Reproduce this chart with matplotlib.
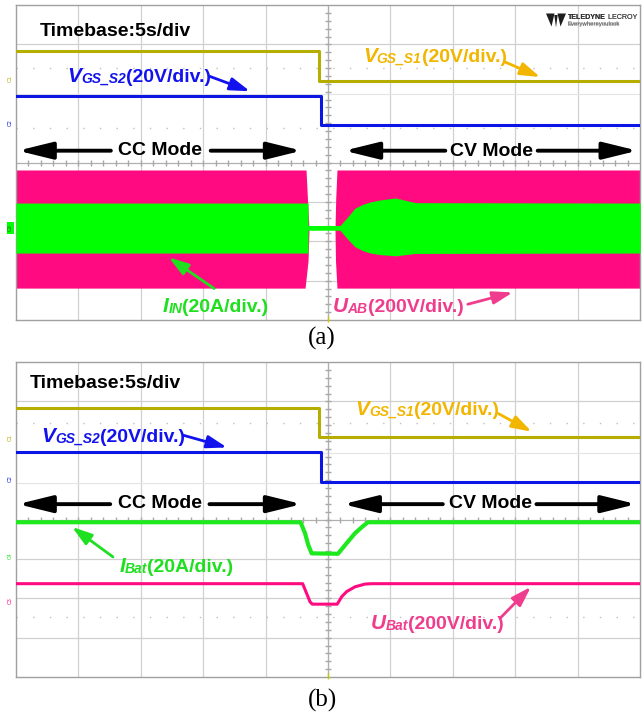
import numpy as np
import matplotlib
matplotlib.use('Agg')
import matplotlib.pyplot as plt
from matplotlib.patches import Polygon, Rectangle

W, H = 643, 718

# ---- data (x: time in s, 5 s/div; y: divisions from bottom of screen) ----
# panel (a)
t_s1 = [0, 24.3, 24.3, 50]
t_s2 = [0, 24.4, 24.4, 50]
a_vgs_s1 = [6.83, 6.83, 6.07, 6.07]
a_vgs_s2 = [5.69, 5.69, 4.95, 4.95]
# U_AB switching envelope (pink), two blocks with a gap around the mode change
uab_y = [0.81, 1.5, 2.3, 3.1, 3.81]
uab_left_edge = [23.16, 23.40, 23.48, 23.35, 23.24]
uab_right_edge = [25.72, 25.60, 25.56, 25.62, 25.72]
# I_IN envelope (green)
iin_t = [0, 23.4, 23.4, 25.96, 26.5, 27.16, 27.8, 28.4, 29.2, 30.4, 31.2, 32.0, 50]
iin_hi = [2.97, 2.97, 2.40, 2.40, 2.59, 2.84, 2.94, 3.00, 3.05, 3.10, 3.04, 2.98, 2.97]
iin_lo = [1.70, 1.70, 2.28, 2.28, 2.08, 1.86, 1.76, 1.70, 1.66, 1.63, 1.66, 1.69, 1.70]

# panel (b)
b_vgs_s1 = [6.83, 6.83, 6.09, 6.09]
b_vgs_s2 = [5.71, 5.71, 4.95, 4.95]
ibat_t = [0, 22.8, 23.16, 23.42, 23.69, 25.8, 26.5, 27.16, 27.8, 28.2, 50]
ibat = [3.93, 3.93, 3.65, 3.35, 3.14, 3.13, 3.40, 3.65, 3.83, 3.93, 3.93]
ubat_t = [0, 22.97, 23.29, 23.56, 23.74, 25.74, 26.1, 26.5, 27.16, 27.96, 28.5, 50]
ubat = [2.37, 2.37, 2.12, 1.91, 1.85, 1.85, 2.04, 2.17, 2.29, 2.36, 2.37, 2.37]

YEL = '#b5ad00'
BLUE = '#0b16e4'
GREEN = '#00ff00'
PINK = '#ff0a80'
SANS = 'Liberation Sans'

fig = plt.figure(figsize=(W / 100, H / 100), dpi=100)
fig.patch.set_facecolor('white')


def scope_axes(top_px, hlines, faint, dotted):
    ax = fig.add_axes([16 / W, (H - top_px - 315) / H, 624 / W, 315 / H])
    ax.set_xlim(0, 50)
    ax.set_ylim(0, 8)
    ax.set_xticks([])
    ax.set_yticks([])
    for s in ax.spines.values():
        s.set_color('#a0a0a0')
        s.set_linewidth(1.0)
    for x in range(5, 50, 5):
        ax.axvline(x, color='#d0d0d0', lw=0.9, zorder=0)
    for y in hlines:
        ax.axhline(y, color='#d0d0d0', lw=0.9, zorder=0)
    for y in faint:
        ax.axhline(y, color='#e4e4e4', lw=0.8, zorder=0)
    for y in dotted:
        ax.axhline(y, color='#c0c0c0', lw=1.0, ls=(0, (1, 11)), zorder=0)
    # centre lines with minor ticks
    ax.axvline(25, color='#b0b0b0', lw=0.9, zorder=0.5)
    ax.axhline(4, color='#b0b0b0', lw=0.9, zorder=0.5)
    ax.plot(np.arange(1, 50, 1.0), np.full(49, 4.0), ls='none', marker='|',
            ms=5, color='#a8a8a8', zorder=0.6)
    ax.plot(np.full(39, 25.0), np.arange(0.2, 7.9, 0.2), ls='none', marker='_',
            ms=5, color='#a8a8a8', zorder=0.6)
    ax.plot([25], [0.02], marker='|', ms=5, color='#c8c800', clip_on=False, zorder=5)
    return ax


def sig_label(ax, x, y, main, sub, rest, color):
    kw = dict(color=color, fontweight='bold', family=SANS, zorder=7)
    t1 = ax.text(x, y, main, fontsize=15, fontstyle='italic', va='baseline', ha='left', **kw)
    t2 = ax.annotate(sub, xy=(1, 0), xycoords=t1, fontsize=10, fontstyle='italic',
                     va='bottom', ha='left', **kw)
    ax.annotate(rest, xy=(1, 0), xycoords=(t2, t1), fontsize=14, va='bottom', ha='left', **kw)


def arrow(ax, tail, head, color, lw=2.0, ms=12, hw=0.32, hl=1.0):
    ax.annotate('', xy=head, xytext=tail, zorder=7,
                arrowprops=dict(arrowstyle=f'-|>,head_length={hl},head_width={hw}', color=color,
                                lw=lw, mutation_scale=ms, shrinkA=0, shrinkB=0))


def mode_text(ax, text, xc, yb, ya, l_tip, l_tail, r_tail, r_tip):
    ax.text(xc, yb, text, fontsize=14, fontweight='bold', family=SANS, ha='center',
            va='baseline', zorder=7)
    arrow(ax, (l_tail, ya), (l_tip, ya), 'black', lw=2.8, ms=16, hw=0.32, hl=1.3)
    arrow(ax, (r_tail, ya), (r_tip, ya), 'black', lw=2.8, ms=16, hw=0.32, hl=1.3)


def logo(ax, top_px):
    bot = top_px + 315

    def pa(px, py):
        return ((px - 16) / 624, (bot - py) / 315)

    shapes = [
        [(546, 13.5), (554.5, 13.5), (551.5, 26.5)],
        [(566, 13.5), (557.5, 13.5), (560.5, 26.5)],
        [(554.3, 15), (557.7, 15), (556, 27.5)],
    ]
    for pts in shapes:
        ax.add_patch(Polygon([pa(*p) for p in pts], closed=True, transform=ax.transAxes,
                             facecolor='#1e1e1e', edgecolor='none', zorder=7))
    t = ax.text(*pa(568, 19), 'TELEDYNE', transform=ax.transAxes, fontsize=5.1,
                fontweight='bold', family=SANS, color='#333333', va='baseline', zorder=7)
    ax.annotate(' LECROY', xy=(1, 0), xycoords=t, fontsize=5.1, family=SANS,
                color='#444444', va='bottom', zorder=7)
    ax.text(*pa(568, 25.5), 'Everywhereyoulook', transform=ax.transAxes, fontsize=4.3,
            family=SANS, color='#666666', va='baseline', zorder=7)


def chan_tag(ax, y, text, color, box=False):
    if box:
        ax.add_patch(Rectangle((-0.75, y - 0.15), 0.55, 0.3, facecolor=color,
                               edgecolor='none', clip_on=False, zorder=6))
        color = '#206020'
    ax.text(-0.48, y, text, fontsize=3.8, color=color, rotation=90, ha='center',
            va='center', clip_on=False, family=SANS, zorder=7)


# ---------------- panel (a) ----------------
ax1 = scope_axes(5, hlines=[7, 3, 2, 1], faint=[5.74], dotted=[6.40, 4.87])
ax1.fill_betweenx(uab_y, 0, uab_left_edge, color=PINK, lw=0, zorder=2)
ax1.fill_betweenx(uab_y, uab_right_edge, 50, color=PINK, lw=0, zorder=2)
ax1.fill_between(iin_t, iin_lo, iin_hi, color=GREEN, lw=0, zorder=3)
ax1.plot(t_s1, a_vgs_s1, color=YEL, lw=2.2, zorder=4)
ax1.plot(t_s2, a_vgs_s2, color=BLUE, lw=2.2, zorder=4)

ax1.text(1.92, 7.33, 'Timebase:5s/div', fontsize=14, fontweight='bold', family=SANS,
         va='center', ha='left', zorder=7)
sig_label(ax1, 4.09, 6.04, 'V', 'GS_S2', '(20V/div.)', '#1212ee')
arrow(ax1, (15.5, 6.19), (18.75, 5.81), '#1212ee')
sig_label(ax1, 27.8, 6.55, 'V', 'GS_S1', '(20V/div.)', '#f2b600')
arrow(ax1, (39.2, 6.55), (42.0, 6.17), '#f2b600')
mode_text(ax1, 'CC Mode', 11.54, 4.19, 4.30, 0.15, 7.6, 15.6, 22.9)
mode_text(ax1, 'CV Mode', 38.1, 4.16, 4.30, 26.3, 34.4, 41.8, 49.8)
sig_label(ax1, 11.74, 0.21, 'I', 'IN', '(20A/div.)', '#1ee01e')
arrow(ax1, (15.87, 0.80), (12.24, 1.59), '#1ee01e')
sig_label(ax1, 25.36, 0.21, 'U', 'AB', '(200V/div.)', '#f03c8c')
arrow(ax1, (36.2, 0.40), (39.8, 0.70), '#f03c8c')
logo(ax1, 5)
chan_tag(ax1, 6.13, 'C1', YEL)
chan_tag(ax1, 5.0, 'C2', BLUE)
chan_tag(ax1, 2.34, 'C3', GREEN, box=True)

# ---------------- panel (b) ----------------
ax2 = scope_axes(362, hlines=[7, 3, 2, 1], faint=[5.69, 4.92], dotted=[6.45, 1.52])
ax2.plot(t_s1, b_vgs_s1, color=YEL, lw=2.2, zorder=4)
ax2.plot(t_s2, b_vgs_s2, color=BLUE, lw=2.2, zorder=4)
ax2.plot(ibat_t, ibat, color='#1ee81e', lw=3.0, zorder=4)
ax2.plot(ubat_t, ubat, color=PINK, lw=2.2, zorder=4)

ax2.text(1.12, 7.46, 'Timebase:5s/div', fontsize=14, fontweight='bold', family=SANS,
         va='center', ha='left', zorder=7)
sig_label(ax2, 2.06, 5.97, 'V', 'GS_S2', '(20V/div.)', '#1212ee')
arrow(ax2, (13.4, 6.14), (16.9, 5.83), '#1212ee')
sig_label(ax2, 27.16, 6.65, 'V', 'GS_S1', '(20V/div.)', '#f2b600')
arrow(ax2, (38.65, 6.69), (41.32, 6.23), '#f2b600')
mode_text(ax2, 'CC Mode', 11.5, 4.28, 4.39, 0.15, 7.55, 15.5, 22.9)
mode_text(ax2, 'CV Mode', 38.0, 4.28, 4.39, 26.2, 34.2, 41.7, 49.7)
sig_label(ax2, 8.28, 2.67, 'I', 'Bat', '(20A/div.)', '#1ee01e')
arrow(ax2, (7.77, 3.05), (4.49, 3.81), '#1ee01e')
sig_label(ax2, 28.4, 1.23, 'U', 'Bat', '(200V/div.)', '#f03c8c')
arrow(ax2, (38.78, 1.49), (41.26, 2.29), '#f03c8c')
logo(ax2, 362)
chan_tag(ax2, 6.09, 'C1', YEL)
chan_tag(ax2, 5.03, 'C2', BLUE)
chan_tag(ax2, 3.07, 'C4', '#1ee01e')
chan_tag(ax2, 1.95, 'C3', PINK)

fig.text(322 / W, (H - 338) / H, '(a)', fontsize=18, family='Liberation Serif',
         ha='center', va='center')
fig.text(322 / W, (H - 700) / H, '(b)', fontsize=18, family='Liberation Serif',
         ha='center', va='center')

fig.savefig('out.png', dpi=100, facecolor='white')
